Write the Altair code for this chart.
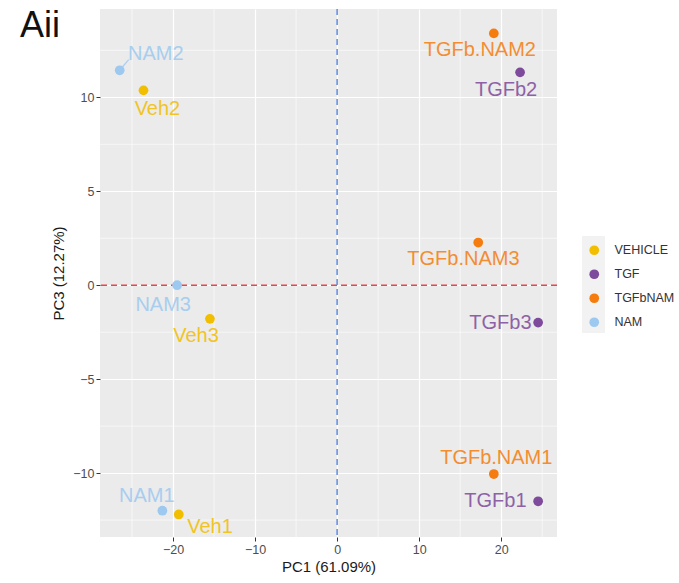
import altair as alt
import pandas as pd

samples = ["NAM2", "Veh2", "NAM3", "Veh3", "NAM1", "Veh1",
           "TGFb.NAM2", "TGFb2", "TGFb.NAM3", "TGFb3", "TGFb.NAM1", "TGFb1"]
groups = ["NAM", "VEHICLE", "NAM", "VEHICLE", "NAM", "VEHICLE",
          "TGFbNAM", "TGF", "TGFbNAM", "TGF", "TGFbNAM", "TGF"]
pc1 = [-26.5, -23.6, -19.5, -15.5, -21.3, -19.3, 19.1, 22.3, 17.2, 24.5, 19.1, 24.5]
pc3 = [11.44, 10.37, 0.0, -1.79, -12.0, -12.2, 13.4, 11.33, 2.27, -1.99, -10.05, -11.5]
# repelled label positions (data units)
label_x = [-22.1, -21.9, -21.2, -17.2, -23.2, -15.5, 17.4, 20.6, 15.4, 19.9, 19.4, 19.3]
label_y = [12.3, 9.4, -1.06, -2.7, -11.2, -12.85, 12.5, 10.4, 1.38, -1.99, -9.19, -11.5]

group_order = ["VEHICLE", "TGF", "TGFbNAM", "NAM"]
group_colors = ["#F2BE00", "#7E4A9C", "#F57D0F", "#9DC9F0"]

x_major = [-20, -10, 0, 10, 20]
y_major = [-10, -5, 0, 5, 10]
x_minor = [-25, -15, -5, 5, 15, 25]
y_minor = [-12.5, -7.5, -2.5, 2.5, 7.5, 12.5]

seg_x = [-26.5]
seg_y = [11.44]
seg_x2 = [-25.4]
seg_y2 = [12.0]
seg_group = ["NAM"]

df = pd.DataFrame({"sample": samples, "group": groups, "PC1": pc1, "PC3": pc3,
                   "lx": label_x, "ly": label_y})
seg = pd.DataFrame({"x": seg_x, "y": seg_y, "x2": seg_x2, "y2": seg_y2, "group": seg_group})

xs = alt.Scale(domain=[-28.9, 26.8], nice=False, zero=False)
ys = alt.Scale(domain=[-13.4, 14.7], nice=False, zero=False)
cs = alt.Scale(domain=group_order, range=group_colors)

xax = alt.Axis(title="PC1 (61.09%)", values=x_major, titlePadding=4)
yax = alt.Axis(title="PC3 (12.27%)", values=y_major, titlePadding=6)

leg = alt.Legend(orient="none", legendX=488, legendY=235,
                 symbolType="circle", symbolSize=95, symbolStrokeWidth=0,
                 symbolOpacity=1,
                 labelFontSize=12.5, labelColor="#333333",
                 labelOffset=14, rowPadding=11,
                 padding=0, labelFont="Liberation Sans")
color_enc = alt.Color("group:N", scale=cs, title=None, legend=leg)

minor_x = alt.Chart(pd.DataFrame({"v": x_minor})).mark_rule(
    color="white", strokeWidth=0.6).encode(x=alt.X("v:Q", scale=xs, axis=xax))
minor_y = alt.Chart(pd.DataFrame({"v": y_minor})).mark_rule(
    color="white", strokeWidth=0.6).encode(y=alt.Y("v:Q", scale=ys, axis=yax))

hline = alt.Chart(pd.DataFrame({"v": [0]})).mark_rule(
    color="#E8444C", strokeDash=[6, 4], strokeWidth=1.5).encode(y=alt.Y("v:Q", scale=ys, axis=yax))
vline = alt.Chart(pd.DataFrame({"v": [0]})).mark_rule(
    color="#5F8BE0", strokeDash=[6, 4], strokeWidth=1.5).encode(x=alt.X("v:Q", scale=xs, axis=xax))

points = alt.Chart(df).mark_circle(size=95, opacity=1).encode(
    x=alt.X("PC1:Q", scale=xs, axis=xax),
    y=alt.Y("PC3:Q", scale=ys, axis=yax),
    color=color_enc)

segs = alt.Chart(seg).mark_rule(strokeWidth=1.2, opacity=0.85).encode(
    x=alt.X("x:Q", scale=xs, axis=xax), y=alt.Y("y:Q", scale=ys, axis=yax),
    x2="x2:Q", y2="y2:Q",
    color=color_enc)

labels = alt.Chart(df).mark_text(fontSize=20, font="Liberation Sans", opacity=0.85,
                                 align="center", baseline="middle").encode(
    x=alt.X("lx:Q", scale=xs, axis=xax),
    y=alt.Y("ly:Q", scale=ys, axis=yax),
    text="sample:N",
    color=color_enc)

legend_bg = alt.Chart(alt.Data(values=[{}])).mark_rect(color="#F2F2F2").encode(
    x=alt.value(482), x2=alt.value(505), y=alt.value(227), y2=alt.value(324))

title_txt = alt.Chart(alt.Data(values=[{}])).mark_text(
    text="Aii", fontSize=36, font="Liberation Sans", align="left",
    baseline="alphabetic", color="#111111").encode(x=alt.value(-80), y=alt.value(28))

chart = alt.layer(legend_bg, minor_x, minor_y, hline, vline, segs, points, labels, title_txt).properties(
    width=457, height=528,
    autosize=alt.AutoSizeParams(type="none"),
    padding={"left": 100, "top": 9, "right": 122, "bottom": 46},
    background="white",
).configure_view(
    fill="#EBEBEB", stroke=None
).configure_axis(
    grid=True, gridColor="white", gridWidth=1.2, domain=False,
    tickColor="#333333", tickSize=4, tickWidth=1,
    labelFont="Liberation Sans", labelFontSize=12.5, labelColor="#4D4D4D", labelPadding=2,
    titleFont="Liberation Sans", titleFontSize=15, titleFontWeight="normal", titleColor="#1A1A1A"
)

chart.save("out.html", embed_options={"renderer": "svg", "actions": False})
